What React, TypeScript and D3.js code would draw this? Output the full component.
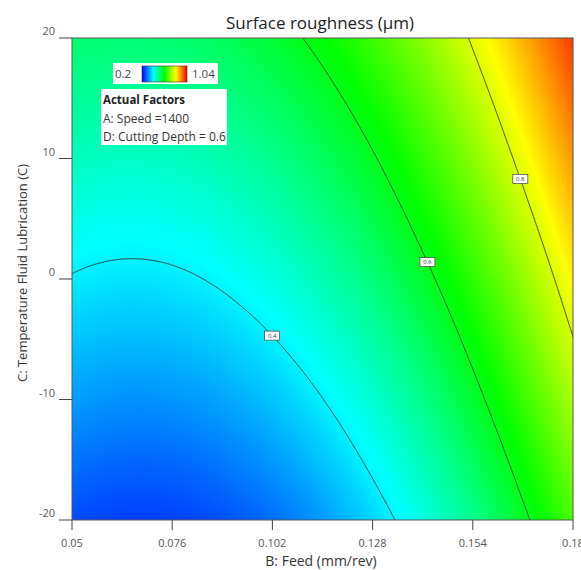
import { useMemo } from 'react';
import * as d3 from 'd3';

// axis values
const feedTicks = [0.05, 0.076, 0.102, 0.128, 0.154, 0.18];
const tempTicks = [-20, -10, 0, 10, 20];

// surface roughness (um) read at the grid nodes, one array per temperature, feed left -> right
const roughAtM20 = [0.262, 0.253, 0.291, 0.375, 0.505, 0.682];
const roughAtM10 = [0.330, 0.323, 0.362, 0.448, 0.581, 0.760];
const roughAt0 = [0.397, 0.392, 0.434, 0.522, 0.656, 0.837];
const roughAt10 = [0.465, 0.462, 0.505, 0.595, 0.732, 0.915];
const roughAt20 = [0.532, 0.531, 0.577, 0.669, 0.807, 0.992];

const contourLevels = [0.4, 0.6, 0.8];
const labelTemps = [-4.7, 1.4, 8.3]; // where the level labels sit
const legendRange = [0.2, 1.04];
const factorLines = ['A: Speed =1400', 'D: Cutting Depth = 0.6'];

const W = 581;
const H = 570;
const left = 72, top = 38, right = 573, bottom = 520;
const font = '"Open Sans", "Noto Sans", sans-serif';

const grid = [roughAtM20, roughAtM10, roughAt0, roughAt10, roughAt20];

// catmull-rom along one row, ends extended quadratically
function cr(vals: number[], u: number) {
  const n = vals.length;
  const ext = [3 * vals[0] - 3 * vals[1] + vals[2], ...vals,
    3 * vals[n - 1] - 3 * vals[n - 2] + vals[n - 3]];
  const k = Math.max(0, Math.min(n - 2, Math.floor(u)));
  const t = u - k;
  const p0 = ext[k], p1 = ext[k + 1], p2 = ext[k + 2], p3 = ext[k + 3];
  return 0.5 * (2 * p1 + (-p0 + p2) * t + (2 * p0 - 5 * p1 + 4 * p2 - p3) * t * t
    + (-p0 + 3 * p1 - 3 * p2 + p3) * t * t * t);
}

const uScale = d3.scaleLinear().domain(d3.extent(feedTicks) as [number, number]).range([0, feedTicks.length - 1]);
const vScale = d3.scaleLinear().domain(d3.extent(tempTicks) as [number, number]).range([0, tempTicks.length - 1]);

function rough(feed: number, temp: number) {
  const u = uScale(feed);
  const col = grid.map(row => cr(row, u));
  return cr(col, vScale(temp));
}

const x = d3.scaleLinear().domain([0.05, 0.18]).range([left, right]);
const y = d3.scaleLinear().domain([-20, 20]).range([bottom, top]);

const color = d3.scaleLinear<string>()
  .domain([0.2, 0.41, 0.62, 0.83, 1.04])
  .range(['#0000ff', '#00ffff', '#00ff00', '#ffff00', '#ff0000'])
  .clamp(true);

export default function App() {
  const pw = right - left;
  const ph = bottom - top;

  const heatUrl = useMemo(() => {
    const canvas = document.createElement('canvas');
    canvas.width = pw;
    canvas.height = ph;
    const ctx = canvas.getContext('2d')!;
    const img = ctx.createImageData(pw, ph);
    for (let r = 0; r < ph; r++) {
      const temp = y.invert(top + r + 0.5);
      for (let c = 0; c < pw; c++) {
        const v = rough(x.invert(left + c + 0.5), temp);
        const col = d3.rgb(color(v));
        const i = (r * pw + c) * 4;
        img.data[i] = col.r;
        img.data[i + 1] = col.g;
        img.data[i + 2] = col.b;
        img.data[i + 3] = 255;
      }
    }
    ctx.putImageData(img, 0, 0);
    return canvas.toDataURL();
  }, []);

  const m = 4;
  const contourPaths = useMemo(() => {
    const gw = pw + 2 * m, gh = ph + 2 * m;
    const values = new Array(gw * gh);
    for (let r = 0; r < gh; r++) {
      const temp = y.invert(top - m + r + 0.5);
      for (let c = 0; c < gw; c++) {
        values[r * gw + c] = rough(x.invert(left - m + c + 0.5), temp);
      }
    }
    const cs = d3.contours().size([gw, gh]).thresholds(contourLevels)(values);
    const path = d3.geoPath();
    return cs.map(c => path(c as any) || '');
  }, []);

  const labels = contourLevels.map((lv, i) => {
    const temp = labelTemps[i];
    let lo = 0.05, hi = 0.18;
    for (let k = 0; k < 40; k++) {
      const mid = (lo + hi) / 2;
      if (rough(mid, temp) < lv) lo = mid; else hi = mid;
    }
    return { lv, px: x((lo + hi) / 2), py: y(temp) };
  });

  return (
    <svg width={W} height={H} style={{ position: 'absolute', left: 0, top: 0, background: '#fff' }}
      fontFamily={font}>
      <defs>
        <clipPath id="plotClip">
          <rect x={left} y={top} width={pw} height={ph} />
        </clipPath>
        <linearGradient id="legendGrad" x1="0" x2="1" y1="0" y2="0">
          {d3.range(0, 1.0001, 0.125).map(t => (
            <stop key={t} offset={t} stopColor={color(legendRange[0] + t * (legendRange[1] - legendRange[0]))} />
          ))}
        </linearGradient>
      </defs>

      <text x={320} y={29} textAnchor="middle" fontSize={17} fill="#222">Surface roughness (µm)</text>

      <image href={heatUrl} x={left} y={top} width={pw} height={ph} preserveAspectRatio="none" />

      <g clipPath="url(#plotClip)">
        <g transform={`translate(${left - m},${top - m})`}>
          {contourPaths.map((d, i) => (
            <path key={i} d={d} fill="none" stroke="#2a3a30" strokeWidth={1} />
          ))}
        </g>
      </g>

      {labels.map(l => (
        <g key={l.lv} transform={`translate(${l.px},${l.py})`}>
          <rect x={-7.5} y={-4.5} width={15} height={9} fill="#fff" stroke="#444" strokeWidth={0.7} />
          <text y={2.2} textAnchor="middle" fontSize={6} fill="#333">{l.lv}</text>
        </g>
      ))}

      <rect x={left} y={top} width={pw} height={ph} fill="none" stroke="#555" strokeWidth={1} />

      {/* y axis */}
      {tempTicks.map(t => (
        <g key={t}>
          <line x1={59} x2={left} y1={y(t)} y2={y(t)} stroke="#444" />
          <text x={55} y={y(t) - 3} textAnchor="end" fontSize={11} fill="#555">{t}</text>
        </g>
      ))}
      <text transform={`translate(27,${273}) rotate(-90)`} textAnchor="middle" fontSize={13} fill="#333">
        C: Temperature Fluid Lubrication (C)
      </text>

      {/* x axis */}
      {feedTicks.map(f => (
        <g key={f}>
          <line x1={x(f)} x2={x(f)} y1={bottom} y2={bottom + 10} stroke="#444" />
          <text x={x(f)} y={547} textAnchor="middle" fontSize={11} fill="#555">{f}</text>
        </g>
      ))}
      <text x={321} y={566} textAnchor="middle" fontSize={14} fill="#333">B: Feed (mm/rev)</text>

      {/* colour legend */}
      <rect x={113} y={63} width={105} height={21} fill="#fff" />
      <text x={115} y={78} fontSize={11.5} fill="#444">{legendRange[0]}</text>
      <rect x={142} y={66} width={45} height={16} fill="url(#legendGrad)" stroke="#333" strokeWidth={0.6} />
      <text x={192} y={78} fontSize={11.5} fill="#444">{legendRange[1]}</text>

      {/* actual factors */}
      <rect x={101} y={89} width={126} height={56} fill="#fff" />
      <text x={103} y={104} fontSize={11.5} fontWeight="bold" fill="#222">Actual Factors</text>
      {factorLines.map((s, i) => (
        <text key={s} x={103} y={123 + i * 18} fontSize={12} fill="#333">{s}</text>
      ))}
    </svg>
  );
}
